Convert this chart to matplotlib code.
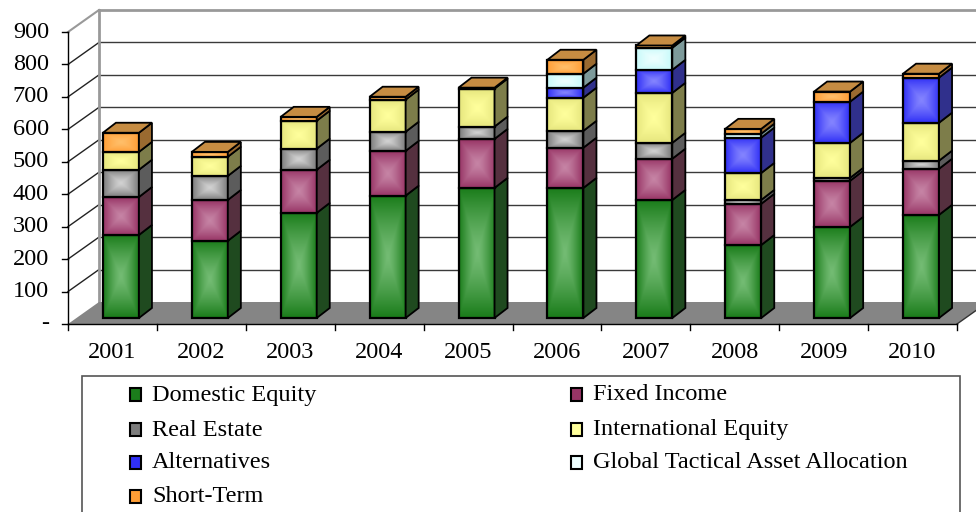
import numpy as np
import matplotlib
matplotlib.use("Agg")
import matplotlib.pyplot as plt
from matplotlib.patches import Rectangle, Polygon
from matplotlib.colors import to_rgb

# ---- data ----
YEARS = ["2001", "2002", "2003", "2004", "2005", "2006", "2007", "2008", "2009", "2010"]
SERIES = ["Domestic Equity", "Fixed Income", "Real Estate", "International Equity",
          "Alternatives", "Global Tactical Asset Allocation", "Short-Term"]

domestic_equity = [256, 238, 324, 377, 401, 401, 364, 225, 281, 318]
fixed_income = [117, 126, 133, 138, 151, 124, 127, 127, 142, 142]
real_estate = [84, 74, 65, 59, 38, 52, 49, 12, 9, 25]
international_equity = [55, 59, 86, 99, 117, 102, 154, 83, 108, 117]
alternatives = [0, 0, 0, 0, 0, 31, 71, 109, 127, 139]
global_tactical = [0, 0, 0, 0, 0, 43, 68, 12, 0, 0]
short_term = [59, 15, 12, 9, 3, 43, 7, 15, 31, 12]

Y_TICKS = [0, 100, 200, 300, 400, 500, 600, 700, 800, 900]
Y_TICK_LABELS = ["-", "100", "200", "300", "400", "500", "600", "700", "800", "900"]

# style per series: (edge of gradient, centre of gradient, side face, top face)
STYLES = [
    ("#1b7d1b", "#74bc74", "#1f4a1f", "#2f6a2f"),
    ("#983566", "#c684a5", "#55303f", "#7a4560"),
    ("#7c7c7c", "#d2d2d2", "#5c5c5c", "#8a8a8a"),
    ("#e6e67e", "#ffff9c", "#7d7d4a", "#b0b070"),
    ("#3030f6", "#8484ff", "#30308c", "#5050b0"),
    ("#c8fafa", "#eeffff", "#7d9a9a", "#a8c8c8"),
    ("#ff9e36", "#ffbf6a", "#9a6a30", "#c68c42"),
]

# ---- geometry (data units: 1 per category on x, value units on y) ----
W, H = 976, 512
PX_X = 88.9            # pixels per category
PX_Y = 292 / 900       # pixels per value unit
X0, Y0 = 68, 324       # pixel position of front-axis origin

WALL_DX, WALL_DY = 31 / PX_X, 22 / PX_Y
BAR_DX, BAR_DY = 8.5 / PX_X, 6 / PX_Y
DEP_DX, DEP_DY = 13 / PX_X, 10 / PX_Y
BAR_W = 36 / PX_X

fig = plt.figure(figsize=(W / 100, H / 100), dpi=100)
ax = fig.add_axes([0, 0, 1, 1])
ax.set_axis_off()

FONT = "Liberation Serif"
FS = 17.5

n = len(YEARS)

# back wall + gridlines
ax.add_patch(Rectangle((WALL_DX, WALL_DY), n, 900, facecolor="white", edgecolor="none", zorder=0))
for v in Y_TICKS[1:-1]:
    ax.plot([WALL_DX, n + WALL_DX + 0.5], [v + WALL_DY] * 2, color="#3a3a3a", lw=1, zorder=0.6)
    ax.plot([0, WALL_DX], [v, v + WALL_DY], color="#222222", lw=1, zorder=0.6)
ax.plot([WALL_DX, n + WALL_DX + 0.5], [900 + WALL_DY] * 2, color="#999999", lw=2, zorder=0.6)
ax.plot([0, WALL_DX], [900, 900 + WALL_DY], color="#999999", lw=1.5, zorder=0.6)
ax.plot([WALL_DX, WALL_DX], [WALL_DY, 900 + WALL_DY], color="#999999", lw=2, zorder=0.6)

# floor
ax.add_patch(Polygon([(0, 0), (n, 0), (n + WALL_DX, WALL_DY), (WALL_DX, WALL_DY)],
                     closed=True, facecolor="#858585", edgecolor="none", zorder=0.7))
ax.plot([n, n + WALL_DX], [0, WALL_DY], color="#333333", lw=1, zorder=0.8)

# axes lines and ticks
ax.plot([0, 0], [0, 900], color="black", lw=1, zorder=1)
ax.plot([0, n], [0, 0], color="black", lw=1, zorder=1)
tick_dx = 6 / PX_X
tick_dy = 6 / PX_Y
for v, lab in zip(Y_TICKS, Y_TICK_LABELS):
    ax.plot([-tick_dx, 0], [v, v], color="black", lw=1, zorder=1)
    ax.text(-19 / PX_X, v, lab, ha="right", va="center", fontsize=FS, family=FONT, color="black")
for i in range(n + 1):
    ax.plot([i, i], [0, -tick_dy], color="black", lw=1, zorder=1)
for i, yr in enumerate(YEARS):
    ax.text(i + 0.5, -28 / PX_Y, yr, ha="center", va="center", fontsize=FS, family=FONT)

# gradient weights ("from centre" fill)
g = np.linspace(-1, 1, 40)
uu, vv = np.meshgrid(g, g)
WGT = np.clip(np.maximum(np.abs(uu), np.abs(vv)) ** 1.3, 0, 1)[..., None]


def grad_img(edge, centre):
    e = np.array(to_rgb(edge))
    c = np.array(to_rgb(centre))
    return c * (1 - WGT) + e * WGT


data = [domestic_equity, fixed_income, real_estate, international_equity,
        alternatives, global_tactical, short_term]

for i in range(n):
    x0 = i + 0.5 - BAR_W / 2 + BAR_DX
    x1 = x0 + BAR_W
    base = BAR_DY
    top_style = None
    for s, vals in enumerate(data):
        v = vals[i]
        if v <= 0:
            continue
        edge, centre, side, topc = STYLES[s]
        y0, y1 = base, base + v
        ax.imshow(grad_img(edge, centre), extent=(x0, x1, y0, y1), origin="lower",
                  interpolation="bilinear", aspect="auto", zorder=2)
        ax.add_patch(Rectangle((x0, y0), BAR_W, v, fill=False, edgecolor="black", lw=1.6, zorder=2))
        ax.add_patch(Polygon([(x1, y0), (x1 + DEP_DX, y0 + DEP_DY), (x1 + DEP_DX, y1 + DEP_DY), (x1, y1)],
                             closed=True, facecolor=side, edgecolor="black", lw=1.3, zorder=2))
        base = y1
        top_style = topc
    ax.add_patch(Polygon([(x0, base), (x1, base), (x1 + DEP_DX, base + DEP_DY), (x0 + DEP_DX, base + DEP_DY)],
                         closed=True, facecolor=top_style, edgecolor="black", lw=1.3, zorder=2))

ax.set_xlim(-X0 / PX_X, (W - X0) / PX_X)
ax.set_ylim(-(H - Y0) / PX_Y, Y0 / PX_Y)

# legend (drawn by hand in figure pixels)
def fx(px):
    return px / W


def fy(py):
    return 1 - py / H


fig.patches.append(Rectangle((fx(82), fy(520)), fx(960) - fx(82), fy(376) - fy(520),
                             transform=fig.transFigure, fill=False, edgecolor="#555555", lw=1.2))
order = [0, 2, 4, 6, 1, 3, 5]
for k, s in enumerate(order):
    col, row = divmod(k, 4)
    mx = 130 if col == 0 else 571
    ry = [394, 429, 462, 496][row]
    fig.patches.append(Rectangle((fx(mx), fy(ry + 7)), fx(11), 13 / H, transform=fig.transFigure,
                                 facecolor=STYLES[s][0] if s not in (3, 5) else STYLES[s][1],
                                 edgecolor="black", lw=1.5))
    fig.text(fx(mx + 22), fy(ry + 1), SERIES[s], ha="left", va="center", fontsize=FS, family=FONT)

fig.savefig("out.png", dpi=100)
